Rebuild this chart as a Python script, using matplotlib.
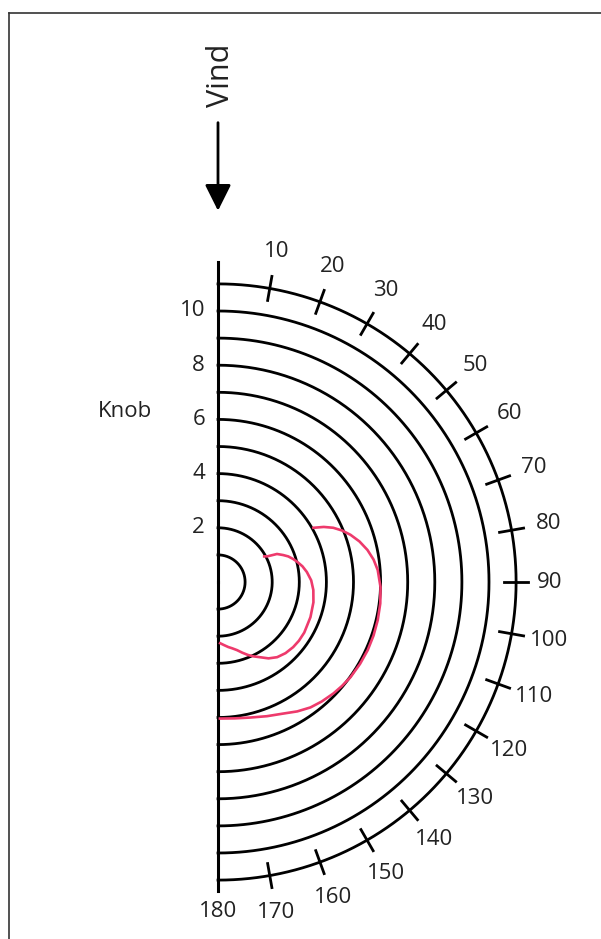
import numpy as np
import matplotlib
matplotlib.use('Agg')
import matplotlib.pyplot as plt
from matplotlib.lines import Line2D

plt.rcParams['font.family'] = ['Open Sans', 'DejaVu Sans']

# ringe (knob) og vinkler (grader fra vinden)
rings = [1, 2, 3, 4, 5, 6, 7, 8, 9, 10, 11]
ring_labels = [2, 4, 6, 8, 10]
angle_ticks = [10, 20, 30, 40, 50, 60, 70, 80, 90, 100, 110, 120, 130, 140, 150, 160, 170]
angle_labels = [10, 20, 30, 40, 50, 60, 70, 80, 90, 100, 110, 120, 130, 140, 150, 160, 170, 180]

# fartskurver aflaest fra figuren (vinkel i grader, fart i knob)
inner_deg = [61, 62.5, 64.6, 67.5, 70, 73, 75.8, 79.5, 83.6, 89, 94.8, 102, 110.8, 120.4,
             126, 130.9, 136.5, 141.8, 146.5, 150.8, 154.5, 157.7, 161, 164.4, 168, 171, 174.5, 178]
inner_kn = [1.95, 2.05, 2.41, 2.6, 2.76, 2.9, 3.02, 3.17, 3.3, 3.44, 3.53, 3.6, 3.65, 3.69,
            3.69, 3.67, 3.62, 3.53, 3.38, 3.18, 3.04, 2.91, 2.76, 2.61, 2.5, 2.43, 2.34, 2.26]

outer_deg = [60.4, 62.5, 64.8, 67.5, 70.4, 74, 77.9, 81.8, 85.7, 91.8, 97.5, 103.4, 109, 114.5,
             120, 125.7, 130, 134, 139, 143.6, 148.5, 153.6, 160, 166.7, 173, 179.2]
outer_kn = [4.05, 4.4, 4.7, 4.96, 5.19, 5.43, 5.64, 5.8, 5.91, 6.0, 6.04, 6.06, 6.07, 6.07,
            6.05, 6.02, 5.97, 5.92, 5.84, 5.75, 5.6, 5.42, 5.27, 5.14, 5.07, 5.04]

W, H = 601, 939
px = 27.1          # pixels per knob
cx, cy = 218, 582  # centrum i pixels
rmax = 11

fig = plt.figure(figsize=(W / 100, H / 100), dpi=100)
size = 2 * rmax * px
ax = fig.add_axes([(cx - size / 2) / W, (H - cy - size / 2) / H, size / W, size / H],
                  projection='polar')
ax.set_theta_zero_location('N')
ax.set_theta_direction(-1)
ax.set_rlim(0, rmax)
ax.axis('off')
ax.patch.set_facecolor('none')

txt = '#222222'
fs = 16
half = np.deg2rad(np.linspace(0, 180, 361))
for r in rings:
    ax.plot(half, np.full_like(half, r), color='black', lw=2.0, clip_on=False)

# lodret akse
ax.plot([0, 0], [0, 11.8], color='black', lw=2.2, clip_on=False)
ax.plot([np.pi, np.pi], [0, 11.4], color='black', lw=2.2, clip_on=False)

for a in angle_ticks:
    t = np.deg2rad(a)
    ax.plot([t, t], [10.55, 11.45], color='black', lw=2.0, clip_on=False)

for a in angle_labels:
    rl = 12.15 if a == 180 else (12.25 if a == 90 else 12.4)
    ax.text(np.deg2rad(a), rl, str(a), ha='center', va='center', fontsize=fs,
            color=txt, clip_on=False)

for r in ring_labels:
    ax.annotate(str(r), xy=(0, r), xytext=(-13, 0), textcoords='offset pixels',
                ha='right', va='center', fontsize=fs, color=txt, annotation_clip=False)
ax.annotate('Knob', xy=(0, 6.3), xytext=(-66, 0), textcoords='offset pixels',
            ha='right', va='center', fontsize=fs, color=txt, annotation_clip=False)

red = '#ee3a6c'
ax.plot(np.deg2rad(inner_deg), inner_kn, color=red, lw=1.9, clip_on=False)
ax.plot(np.deg2rad(outer_deg), outer_kn, color=red, lw=1.9, clip_on=False)

# vind-pil
ax.annotate('', xy=(0, 13.7), xytext=(0, 16.95), annotation_clip=False,
            arrowprops=dict(arrowstyle='-|>,head_length=0.8,head_width=0.4',
                            mutation_scale=20, color='black', lw=2.0,
                            shrinkA=0, shrinkB=0))
ax.annotate('Vind', xy=(0, 18.7), xytext=(3, 0), textcoords='offset pixels',
            rotation=90, ha='center', va='center', fontsize=22, color=txt,
            annotation_clip=False)

# ramme
fig.add_artist(Line2D([9 / W, 1], [1 - 13 / H, 1 - 13 / H], color='#333333', lw=1.2))
fig.add_artist(Line2D([9 / W, 9 / W], [0, 1 - 13 / H], color='#333333', lw=1.2))

fig.savefig('out.png', dpi=100)
